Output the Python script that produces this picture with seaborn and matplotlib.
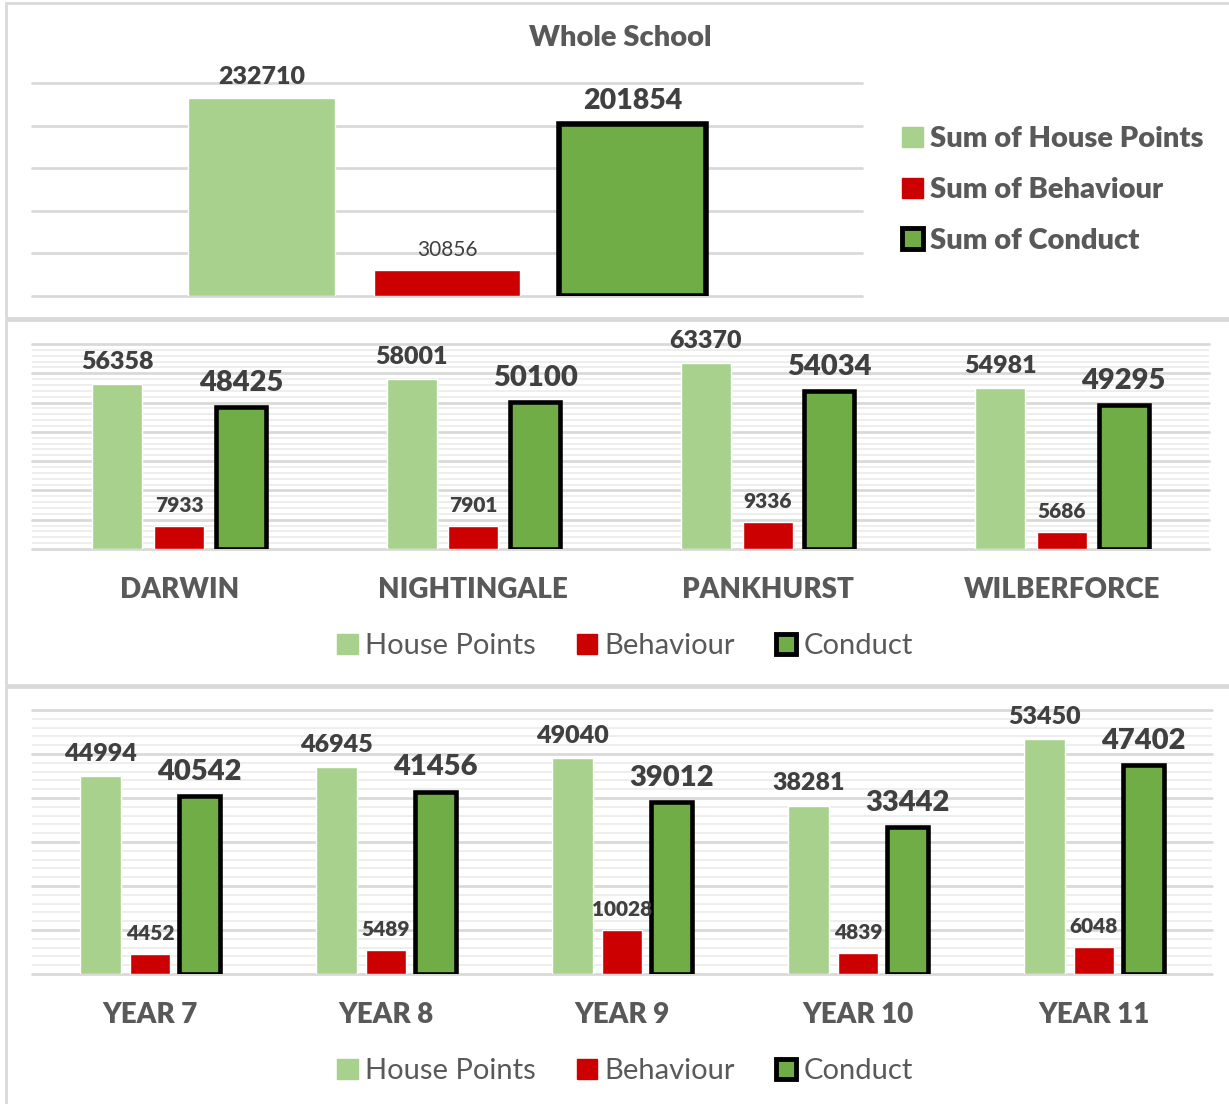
import numpy as np
import pandas as pd
import matplotlib
matplotlib.use("Agg")
import matplotlib.pyplot as plt
from matplotlib.patches import Patch, Rectangle
import seaborn as sns

# Whole school totals
whole_series = ["Sum of House Points", "Sum of Behaviour", "Sum of Conduct"]
whole_values = [232710, 30856, 201854]

# Per house
houses = ["DARWIN", "NIGHTINGALE", "PANKHURST", "WILBERFORCE"]
house_points = [56358, 58001, 63370, 54981]
house_behaviour = [7933, 7901, 9336, 5686]
house_conduct = [48425, 50100, 54034, 49295]

# Per year group
years = ["YEAR 7", "YEAR 8", "YEAR 9", "YEAR 10", "YEAR 11"]
year_points = [44994, 46945, 49040, 38281, 53450]
year_behaviour = [4452, 5489, 10028, 4839, 6048]
year_conduct = [40542, 41456, 39012, 33442, 47402]

series_short = ["House Points", "Behaviour", "Conduct"]
colors = ["#A9D18E", "#CC0000", "#70AD47"]
grey = "#595959"
dark = "#404040"
HEAVY = "heavy"

sns.set_style("white")
plt.rcParams['font.family'] = ['Lato', 'DejaVu Sans']

W, H = 1229, 1104
fig = plt.figure(figsize=(W / 100, H / 100), dpi=100)


def px_axes(x0, y0, x1, y1):
    # pixel box (top-left origin) -> figure axes
    return fig.add_axes([x0 / W, 1 - y1 / H, (x1 - x0) / W, (y1 - y0) / H])


def long_table(cats, hp, beh, con, names):
    rows = []
    for i, c in enumerate(cats):
        rows.append((c, names[0], hp[i]))
        rows.append((c, names[1], beh[i]))
        rows.append((c, names[2], con[i]))
    return pd.DataFrame(rows, columns=["cat", "series", "value"])


def style_axes(ax, top, minor_step, edge_lw):
    ax.set_ylim(0, top)
    ax.set_yticks(np.arange(0, top + 1, top // 5 if minor_step is None else 10000))
    if minor_step is not None:
        ax.set_yticks(np.arange(0, top + 1, minor_step), minor=True)
        ax.grid(axis="y", which="minor", color="#EBEBEB", lw=1.2)
    ax.grid(axis="y", which="major", color="#D9D9D9", lw=2)
    for ln in ax.yaxis.get_gridlines():
        ln.set_clip_on(False)
    ax.set_axisbelow(True)
    sns.despine(ax=ax, left=True, bottom=True)
    ax.tick_params(axis="y", which="both", length=0, labelleft=False)
    ax.tick_params(axis="x", length=0)
    ax.set_xlabel("")
    ax.set_ylabel("")
    for p in ax.containers[2]:
        p.set_edgecolor("black")
        p.set_linewidth(edge_lw)
        p.set_joinstyle("miter")


# ---- Whole school ----
ax1 = px_axes(32, 83, 862, 296)
df1 = pd.DataFrame({"cat": ["Whole School"] * 3, "series": whole_series, "value": whole_values})
sns.barplot(data=df1, x="cat", y="value", hue="series", hue_order=whole_series,
            palette=colors, width=0.67, gap=0.21, saturation=1, legend=False, ax=ax1)
ax1.set_xlim(-0.5, 0.5)
style_axes(ax1, 250000, None, 4)
ax1.set_xticks([])
ax1.bar_label(ax1.containers[0], fmt="{:.0f}", padding=7, fontsize=18, fontweight=HEAVY, color=dark)
ax1.bar_label(ax1.containers[1], fmt="{:.0f}", padding=7, fontsize=15, color=dark)
ax1.bar_label(ax1.containers[2], fmt="{:.0f}", padding=7, fontsize=20.5, fontweight=HEAVY, color=dark)
fig.text(620 / W, 1 - 38 / H, "Whole School", ha="center", va="center",
         fontsize=21, fontweight=HEAVY, color=grey)

# ---- Houses ----
ax2 = px_axes(32, 344, 1209, 549)
df2 = long_table(houses, house_points, house_behaviour, house_conduct, series_short)
sns.barplot(data=df2, x="cat", y="value", hue="series", hue_order=series_short,
            palette=colors, width=0.63, gap=0.19, saturation=1, legend=False, ax=ax2)
ax2.set_xlim(-0.5, len(houses) - 0.5)
style_axes(ax2, 70000, 2000, 3.3)

# ---- Years ----
ax3 = px_axes(32, 710, 1212, 974)
df3 = long_table(years, year_points, year_behaviour, year_conduct, series_short)
sns.barplot(data=df3, x="cat", y="value", hue="series", hue_order=series_short,
            palette=colors, width=0.63, gap=0.19, saturation=1, legend=False, ax=ax3)
ax3.set_xlim(-0.5, len(years) - 0.5)
style_axes(ax3, 60000, 2000, 3.3)

for ax in (ax2, ax3):
    ax.bar_label(ax.containers[0], fmt="{:.0f}", padding=8, fontsize=18, fontweight=HEAVY, color=dark)
    ax.bar_label(ax.containers[1], fmt="{:.0f}", padding=8, fontsize=15, fontweight=HEAVY, color=dark)
    ax.bar_label(ax.containers[2], fmt="{:.0f}", padding=8, fontsize=21, fontweight=HEAVY, color=dark)
    ax.tick_params(axis="x", pad=20, labelsize=20, labelcolor=grey)
    for t in ax.get_xticklabels():
        t.set_fontweight(HEAVY)

# ---- Legends ----
def handles():
    return [Patch(facecolor=colors[0], edgecolor=colors[0]),
            Patch(facecolor=colors[1], edgecolor=colors[1]),
            Patch(facecolor=colors[2], edgecolor="black", linewidth=3.5)]

fig.legend(handles(), whole_series, loc="upper left", bbox_to_anchor=(876 / W, 1 - 100 / H),
           frameon=False, prop={"size": 21, "weight": HEAVY}, labelcolor=grey,
           handlelength=0.7, handleheight=0.7, handletextpad=0.25, labelspacing=0.85)
for yc in (646, 1071):
    fig.legend(handles(), series_short, loc="center", bbox_to_anchor=(625 / W, 1 - yc / H),
               ncol=3, frameon=False, prop={"size": 21}, labelcolor=grey,
               handlelength=0.7, handleheight=0.7, handletextpad=0.25, columnspacing=1.4)

# ---- Panel frames ----
for y0, y1 in ((3, 318), (320, 685), (687, 1110)):
    fig.add_artist(Rectangle((6 / W, 1 - y1 / H), (W + 10 - 6) / W, (y1 - y0) / H,
                             transform=fig.transFigure, fill=False, edgecolor="#D9D9D9", lw=2))

fig.savefig("out.png", dpi=100)
